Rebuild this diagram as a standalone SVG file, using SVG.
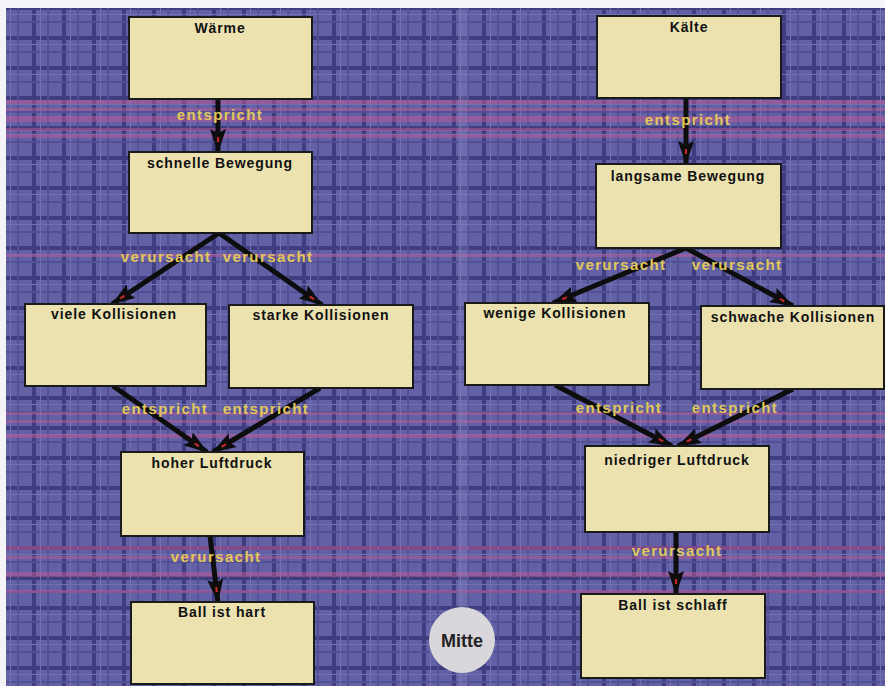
<svg xmlns="http://www.w3.org/2000/svg" width="885" height="686" viewBox="0 0 885 686">
<defs>
<style>
.node rect{fill:#ebe2b0;stroke:#1a1a1a;stroke-width:2}
.node text{font-family:"Liberation Sans",Arial,sans-serif;font-weight:bold;font-size:14px;letter-spacing:0.9px;fill:#111;text-anchor:middle}
.edge line{stroke:#0d0d0d;stroke-width:5;marker-end:url(#arr)}
.lbl{font-family:"Liberation Sans",Arial,sans-serif;font-weight:bold;font-size:15px;letter-spacing:1.4px;fill:#e0c85a;text-anchor:middle}
.pk{fill:#c25a94}
</style>
<pattern id="grid" width="30" height="30" patternUnits="userSpaceOnUse" x="2" y="6">
<rect width="30" height="30" fill="#6261a6"/>
<rect x="0" y="0" width="4" height="30" fill="#3f3d80"/>
<rect x="0" y="0" width="30" height="4" fill="#3f3d80"/>
<rect x="15" y="0" width="2" height="30" fill="#524f94"/>
<rect x="0" y="15" width="30" height="2" fill="#524f94"/>
<rect x="8" y="0" width="1" height="30" fill="#7270b2"/>
<rect x="0" y="8" width="30" height="1" fill="#7270b2"/>
</pattern>
<marker id="arr" markerUnits="userSpaceOnUse" viewBox="0 0 24 16" refX="23" refY="8" markerWidth="24" markerHeight="16" orient="auto">
<path d="M0,0 L24,8 L0,16 L4,8 Z" fill="#0d0d0d"/>
<path d="M8,8 L13,8" stroke="#c0282a" stroke-width="2.2"/>
</marker>
</defs>
<rect width="885" height="686" fill="#f4f4f8"/>
<rect x="6" y="8" width="879" height="678" fill="url(#grid)"/>
<g opacity="0.5">
<rect class="pk" x="6" y="100" width="879" height="4"/>
<rect class="pk" x="6" y="108" width="879" height="3"/>
<rect class="pk" x="6" y="116" width="879" height="6"/>
<rect class="pk" x="6" y="128" width="879" height="3"/>
<rect class="pk" x="6" y="134" width="879" height="4"/>
<rect class="pk" x="6" y="254" width="879" height="3"/>
<rect class="pk" x="6" y="412" width="879" height="3"/>
<rect class="pk" x="6" y="420" width="879" height="3"/>
<rect class="pk" x="6" y="434" width="879" height="4"/>
<rect class="pk" x="6" y="546" width="879" height="4"/>
<rect class="pk" x="6" y="556" width="879" height="3"/>
<rect class="pk" x="6" y="572" width="879" height="5"/>
<rect class="pk" x="6" y="590" width="879" height="3"/>
</g>
<rect x="458" y="8" width="10" height="678" fill="#8a88c0" opacity="0.3"/>

<g id="connectors">
<g class="edge">
<line x1="218" y1="99" x2="218" y2="152"/>
<line x1="686" y1="98" x2="686" y2="164"/>
<line x1="219" y1="233" x2="112" y2="304"/>
<line x1="219" y1="233" x2="322" y2="305"/>
<line x1="686" y1="248" x2="553" y2="303"/>
<line x1="686" y1="248" x2="793" y2="306"/>
<line x1="113" y1="386" x2="207" y2="452"/>
<line x1="320" y1="388" x2="213" y2="452"/>
<line x1="555" y1="385" x2="672" y2="446"/>
<line x1="793" y1="389" x2="678" y2="446"/>
<line x1="210" y1="536" x2="218" y2="602"/>
<line x1="676" y1="532" x2="676" y2="594"/>
</g>
<text class="lbl" x="220" y="120">entspricht</text>
<text class="lbl" x="688" y="125">entspricht</text>
<text class="lbl" x="166" y="262">verursacht</text>
<text class="lbl" x="268" y="262">verursacht</text>
<text class="lbl" x="621" y="270">verursacht</text>
<text class="lbl" x="737" y="270">verursacht</text>
<text class="lbl" x="165" y="414">entspricht</text>
<text class="lbl" x="266" y="414">entspricht</text>
<text class="lbl" x="619" y="413">entspricht</text>
<text class="lbl" x="735" y="413">entspricht</text>
<text class="lbl" x="216" y="562">verursacht</text>
<text class="lbl" x="677" y="556">verursacht</text>
</g>

<g id="n-waerme" class="node"><rect x="129" y="17" width="183" height="82"/><text x="220" y="33">Wärme</text></g>
<g id="n-schnelle" class="node"><rect x="129" y="152" width="183" height="81"/><text x="220" y="168">schnelle Bewegung</text></g>
<g id="n-kaelte" class="node"><rect x="597" y="16" width="184" height="82"/><text x="689" y="32">Kälte</text></g>
<g id="n-langsame" class="node"><rect x="596" y="164" width="185" height="84"/><text x="688" y="181">langsame Bewegung</text></g>
<g id="n-viele" class="node"><rect x="25" y="304" width="181" height="82"/><text x="114" y="319">viele Kollisionen</text></g>
<g id="n-starke" class="node"><rect x="229" y="305" width="184" height="83"/><text x="321" y="320">starke Kollisionen</text></g>
<g id="n-wenige" class="node"><rect x="465" y="303" width="184" height="82"/><text x="555" y="318">wenige Kollisionen</text></g>
<g id="n-schwache" class="node"><rect x="701" y="306" width="183" height="83"/><text x="793" y="322">schwache Kollisionen</text></g>
<g id="n-hoher" class="node"><rect x="121" y="452" width="183" height="84"/><text x="212" y="468">hoher Luftdruck</text></g>
<g id="n-niedriger" class="node"><rect x="585" y="446" width="184" height="86"/><text x="677" y="465">niedriger Luftdruck</text></g>
<g id="n-hart" class="node"><rect x="131" y="602" width="183" height="82"/><text x="222" y="617">Ball ist hart</text></g>
<g id="n-schlaff" class="node"><rect x="581" y="594" width="184" height="84"/><text x="673" y="610">Ball ist schlaff</text></g>
<g id="n-mitte"><circle cx="462" cy="640" r="33" fill="#d9d6dc"/><text x="462" y="647" font-family="'Liberation Sans',Arial,sans-serif" font-size="18" font-weight="bold" fill="#222" text-anchor="middle">Mitte</text></g>
</svg>
